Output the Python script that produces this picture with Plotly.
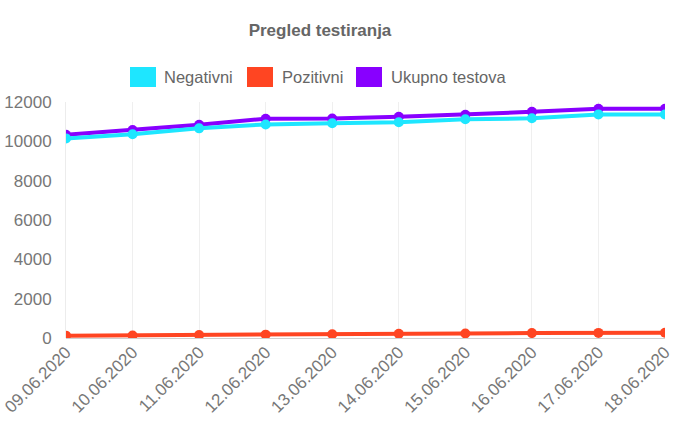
import plotly.graph_objects as go

dates = ["09.06.2020", "10.06.2020", "11.06.2020", "12.06.2020", "13.06.2020",
         "14.06.2020", "15.06.2020", "16.06.2020", "17.06.2020", "18.06.2020"]
negativni = [10150, 10360, 10660, 10860, 10920, 10970, 11120, 11170, 11370, 11370]
pozitivni = [120, 130, 150, 170, 190, 210, 230, 250, 260, 270]
ukupno = [10330, 10580, 10840, 11150, 11160, 11250, 11350, 11500, 11660, 11660]
y_ticks = [0, 2000, 4000, 6000, 8000, 10000, 12000]

series_names = ["Negativni", "Pozitivni", "Ukupno testova"]
colors = ["#1ee6ff", "#ff4522", "#8800ff"]
values = [negativni, pozitivni, ukupno]

W, H = 700, 437
FONT = "Liberation Sans, Arial"
fig = go.Figure()
# draw last dataset first so first dataset sits on top (Chart.js order)
for name, col, vals in reversed(list(zip(series_names, colors, values))):
    fig.add_trace(go.Scatter(
        x=list(range(len(dates))), y=vals, name=name, mode="lines+markers",
        line=dict(color=col, width=4),
        marker=dict(color=col, size=10),
        showlegend=False,
    ))

# manual legend (Chart.js style boxes)
legend_items = [(130, 162), (247, 280), (356, 389)]
shapes = []
annotations = []
for (bx, tx), name, col in zip(legend_items, series_names, colors):
    shapes.append(dict(type="rect", xref="paper", yref="paper",
                       x0=(bx - 66) / (665 - 66), x1=(bx + 26 - 66) / (665 - 66),
                       y0=(338 - 87) / (338 - 102), y1=(338 - 67) / (338 - 102),
                       fillcolor=col, line=dict(width=0)))
    annotations.append(dict(text=name, xref="paper", yref="paper",
                            x=(tx - 66) / (665 - 66), y=(338 - 77) / (338 - 102),
                            xanchor="left", yanchor="middle", showarrow=False,
                            font=dict(family=FONT, size=16.5, color="#666666")))

fig.update_layout(
    width=W, height=H,
    margin=dict(l=66, r=35, t=102, b=99),
    paper_bgcolor="white", plot_bgcolor="white",
    title=dict(text="<b>Pregled testiranja</b>", x=320 / W, xanchor="center",
               y=1 - 30 / H, yanchor="middle",
               font=dict(family=FONT, size=17, color="#666666")),
    shapes=shapes, annotations=annotations,
    showlegend=False,
)
fig.update_xaxes(
    tickmode="array", tickvals=list(range(len(dates))), ticktext=dates,
    range=[0, len(dates) - 1], tickangle=-45, automargin=False,
    showgrid=True, gridcolor="#efefef", gridwidth=1,
    zeroline=False, showline=False,
    tickfont=dict(family=FONT, size=17, color="#777777"),
)
fig.update_yaxes(
    range=[0, 12000], tickmode="array", tickvals=y_ticks,
    ticktext=[str(v) for v in y_ticks], automargin=False,
    showgrid=False, zeroline=True, zerolinecolor="#cfcfcf", zerolinewidth=1,
    showline=True, linecolor="#ececec", ticks="", ticklabelstandoff=10,
    tickfont=dict(family=FONT, size=17, color="#777777"),
)
fig.write_html("out.html")
